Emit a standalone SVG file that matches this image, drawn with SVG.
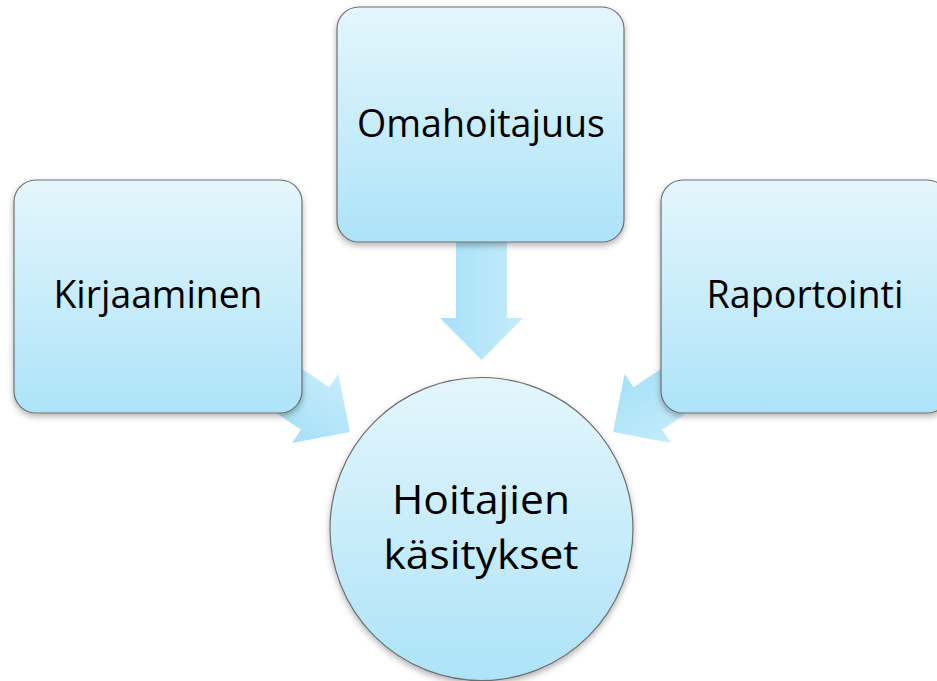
<svg xmlns="http://www.w3.org/2000/svg" width="937" height="681" viewBox="0 0 937 681">
<defs>
<linearGradient id="gBox" x1="0" y1="0" x2="0" y2="1">
<stop offset="0" stop-color="#e4f6fc"/>
<stop offset="1" stop-color="#ade3f8"/>
</linearGradient>
<linearGradient id="gArrow" x1="0" y1="0" x2="0" y2="1">
<stop offset="0" stop-color="#c6ecfa"/>
<stop offset="1" stop-color="#a6e0f8"/>
</linearGradient>
<filter id="sh" x="-10%" y="-10%" width="120%" height="125%">
<feDropShadow dx="0" dy="3" stdDeviation="3" flood-color="#000" flood-opacity="0.3"/>
</filter>
<polygon id="arrow" points="-42,-41.5 0,0 -42,41.5 -42,25.5 -150,25.5 -150,-25.5 -42,-25.5"/>
</defs>
<style>
.node{fill:url(#gBox);stroke:#6e6e6e;stroke-width:1.2;filter:url(#sh)}
.arr{fill:url(#gArrow)}
.t{font-family:"Open Sans","Noto Sans",sans-serif;fill:#000;text-anchor:middle}
</style>
<g id="connectors">
<use href="#arrow" class="arr" transform="translate(481.5,360) rotate(90)"/>
<use href="#arrow" class="arr" transform="translate(350,432) rotate(34)"/>
<use href="#arrow" class="arr" transform="translate(613,432) rotate(146)"/>
</g>
<g id="omahoitajuus">
<rect class="node" x="337" y="7" width="287" height="235" rx="22"/>
<text class="t" x="481" y="137" font-size="38" textLength="248" lengthAdjust="spacingAndGlyphs">Omahoitajuus</text>
</g>
<g id="kirjaaminen">
<rect class="node" x="14" y="180" width="288" height="233" rx="22"/>
<text class="t" x="158" y="308" font-size="38" textLength="209" lengthAdjust="spacingAndGlyphs">Kirjaaminen</text>
</g>
<g id="raportointi">
<rect class="node" x="661" y="180" width="288" height="233" rx="22"/>
<text class="t" x="805" y="308" font-size="38" textLength="197" lengthAdjust="spacingAndGlyphs">Raportointi</text>
</g>
<g id="hoitajien">
<circle class="node" cx="481.5" cy="529" r="151.5"/>
<text class="t" x="481" y="514" font-size="40" textLength="178" lengthAdjust="spacingAndGlyphs">Hoitajien</text>
<text class="t" x="481" y="569" font-size="40" textLength="195" lengthAdjust="spacingAndGlyphs">käsitykset</text>
</g>
</svg>
